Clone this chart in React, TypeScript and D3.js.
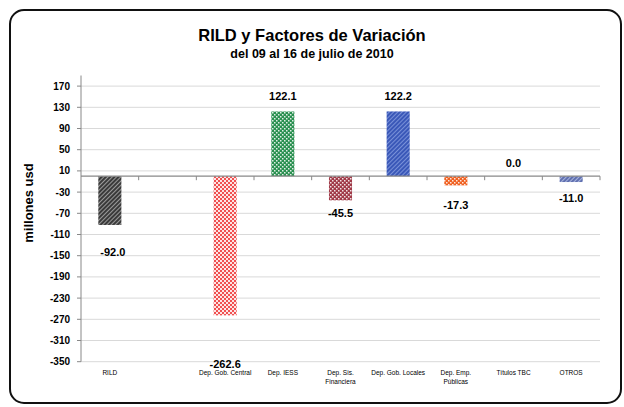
import React from 'react';
import * as d3 from 'd3';

// categories (one empty slot after RILD, as in the original sheet)
const categories = ['RILD', '', 'Dep. Gob. Central', 'Dep. IESS', 'Dep. Sis.|Financiera', 'Dep. Gob. Locales', 'Dep. Emp.|Públicas', 'Títulos TBC', 'OTROS'];
const values = [-92.0, null, -262.6, 122.1, -45.5, 122.2, -17.3, 0.0, -11.0];
// where Excel left the data labels, in axis units
const labelLevels = [-143, null, -354, 151, -69, 151, -54, 25, -41];
const yTicks = [170, 130, 90, 50, 10, -30, -70, -110, -150, -190, -230, -270, -310, -350];

const W = 624;
const H = 407;
const FONT = '"Liberation Sans", Arial, sans-serif';

const fills = ['url(#pGray)', 'none', 'url(#pRed)', 'url(#pGreen)', 'url(#pBrown)', 'url(#pBlue)', 'url(#pOrange)', 'none', 'url(#pSlate)'];

function Checker({ id, color, dot = 1.5 }: { id: string; color: string; dot?: number }) {
  return (
    <pattern id={id} width={4} height={4} patternUnits="userSpaceOnUse">
      <rect width={4} height={4} fill={color} />
      <rect x={0} y={0} width={dot} height={dot} fill="#fff" opacity={0.85} />
      <rect x={2} y={2} width={dot} height={dot} fill="#fff" opacity={0.85} />
    </pattern>
  );
}

function Diag({ id, color, line }: { id: string; color: string; line: string }) {
  return (
    <pattern id={id} width={3} height={3} patternUnits="userSpaceOnUse" patternTransform="rotate(45)">
      <rect width={3} height={3} fill={color} />
      <rect x={0} y={0} width={1} height={3} fill={line} />
    </pattern>
  );
}

export default function App() {
  const x = d3.scaleBand<string>().domain(categories.map((c, i) => c + i)).range([81, 600]).paddingInner(0.6).paddingOuter(0.3);
  const y = d3.scaleLinear().domain([-350, 190]).range([361.7, 75.5]);
  const step = x.step();
  const left = 81;
  const right = 600;
  const y0 = y(0);

  return (
    <svg width={W} height={H} style={{ position: 'absolute', left: 0, top: 0, fontFamily: FONT }}>
      <defs>
        <Diag id="pGray" color="#3a3a3a" line="#9a9a9a" />
        <Checker id="pRed" color="#f05050" dot={2} />
        <Checker id="pGreen" color="#2a9050" />
        <Checker id="pBrown" color="#a03a48" />
        <Diag id="pBlue" color="#3a58b8" line="#7890d8" />
        <Checker id="pOrange" color="#f06020" />
        <Diag id="pSlate" color="#6070b0" line="#a8b4dc" />
      </defs>
      <rect x={0} y={0} width={W} height={H} fill="#fff" />
      <rect x={10} y={10} width={611} height={393} rx={14} ry={14} fill="#fff" stroke="#111" strokeWidth={2} />

      <text x={312} y={41} textAnchor="middle" fontSize={16.5} fontWeight="bold">RILD y Factores de Variación</text>
      <text x={312} y={58} textAnchor="middle" fontSize={12.5} fontWeight="bold">del 09 al 16 de julio de 2010</text>

      {/* gridlines */}
      {yTicks.map((t) => (
        <line key={'g' + t} x1={left} x2={right} y1={y(t)} y2={y(t)} stroke="#d9d9d9" strokeWidth={1} />
      ))}

      {/* y axis */}
      <line x1={left} x2={left} y1={y(190)} y2={y(-350)} stroke="#888" strokeWidth={1} />
      {yTicks.map((t) => (
        <g key={'t' + t}>
          <line x1={left - 4} x2={left} y1={y(t)} y2={y(t)} stroke="#888" />
          <text x={left - 11} y={y(t)} dy="0.35em" textAnchor="end" fontSize={10} fontWeight="bold">{t}</text>
        </g>
      ))}
      <text transform={`translate(33,203) rotate(-90)`} textAnchor="middle" fontSize={13} fontWeight="bold">millones usd</text>

      {/* bars */}
      {categories.map((c, i) => {
        const v = values[i];
        if (v === null || v === 0) return null;
        const bx = x(c + i) as number;
        return (
          <rect key={'b' + i} x={bx} width={x.bandwidth()} y={Math.min(y(v), y0)} height={Math.abs(y(v) - y0)} fill={fills[i]} />
        );
      })}

      {/* category axis at zero */}
      <line x1={left} x2={right} y1={y0} y2={y0} stroke="#888" strokeWidth={1.2} />
      {d3.range(1, categories.length + 1).map((k) => (
        <line key={'xt' + k} x1={left + k * step} x2={left + k * step} y1={y0} y2={y0 + 4} stroke="#888" />
      ))}

      {/* data labels */}
      {categories.map((c, i) => {
        const v = values[i];
        const lv = labelLevels[i];
        if (v === null || lv === null) return null;
        const cx = (x(c + i) as number) + x.bandwidth() / 2 + (i === 0 ? 3 : 0);
        return (
          <text key={'l' + i} x={cx} y={y(lv)} dy="0.35em" textAnchor="middle" fontSize={11} fontWeight="bold">{v.toFixed(1)}</text>
        );
      })}

      {/* category labels */}
      {categories.map((c, i) => {
        const cx = (x(c + i) as number) + x.bandwidth() / 2;
        return (
          <text key={'c' + i} x={cx} y={375} textAnchor="middle" fontSize={6.5}>
            {c.split('|').map((part, j) => (
              <tspan key={j} x={cx} dy={j === 0 ? 0 : 8.5}>{part}</tspan>
            ))}
          </text>
        );
      })}
    </svg>
  );
}
